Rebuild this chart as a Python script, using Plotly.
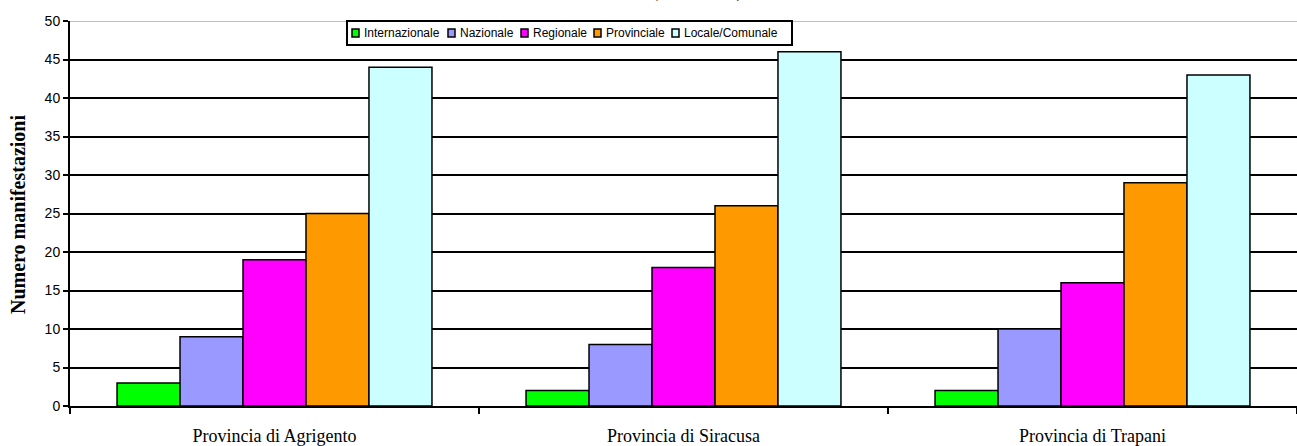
import plotly.graph_objects as go

# Data
provinces = ["Provincia di Agrigento", "Provincia di Siracusa", "Provincia di Trapani"]
levels = ["Internazionale", "Nazionale", "Regionale", "Provinciale", "Locale/Comunale"]
internazionale = [3, 2, 2]
nazionale = [9, 8, 10]
regionale = [19, 18, 16]
provinciale = [25, 26, 29]
locale = [44, 46, 43]
y_ticks = [0, 5, 10, 15, 20, 25, 30, 35, 40, 45, 50]

series = [internazionale, nazionale, regionale, provinciale, locale]
colors = ["#00FF00", "#9999FF", "#FF00FF", "#FF9900", "#CCFFFF"]

W, H = 1297, 446
M_L, M_R, M_T, M_B = 70, 0, 21, 40
PW, PH = W - M_L - M_R, H - M_T - M_B


def px_x(x):
    return (x - M_L) / PW


def px_y(y):
    return 1 - (y - M_T) / PH


fig = go.Figure()
for name, vals, col in zip(levels, series, colors):
    fig.add_trace(go.Bar(
        name=name, x=provinces, y=vals,
        marker=dict(color=col, line=dict(color="black", width=1.5)),
        showlegend=False,
    ))

shapes = []
annotations = []

# Top gridline drawn light grey
shapes.append(dict(type="line", xref="paper", x0=0, x1=1, yref="y", y0=50, y1=50,
                   line=dict(color="#BFBFBF", width=2), layer="above"))

# Boxed legend
leg_left, leg_right, leg_top, leg_bottom = 347, 792, 21, 45
shapes.append(dict(type="rect", xref="paper", yref="paper",
                   x0=px_x(leg_left), x1=px_x(leg_right),
                   y0=px_y(leg_bottom), y1=px_y(leg_top),
                   line=dict(color="black", width=2), fillcolor="white", layer="above"))
swatch_x = [352, 448, 521, 594, 672]
sw_cy = 33
for sx, name, col in zip(swatch_x, levels, colors):
    shapes.append(dict(type="rect", xref="paper", yref="paper",
                       x0=px_x(sx), x1=px_x(sx + 7),
                       y0=px_y(sw_cy + 4), y1=px_y(sw_cy - 4),
                       line=dict(color="black", width=1.5), fillcolor=col, layer="above"))
    annotations.append(dict(text=name, xref="paper", yref="paper",
                            x=px_x(sx + 10), y=px_y(sw_cy), xanchor="left", yanchor="middle",
                            showarrow=False, font=dict(family="Liberation Sans, Arial", size=12, color="black")))

# Y axis title
annotations.append(dict(text="<b>Numero manifestazioni</b>", xref="paper", yref="paper",
                        x=px_x(18), y=px_y(215), textangle=-90, xanchor="center", yanchor="middle",
                        showarrow=False, font=dict(family="Liberation Serif, Times New Roman", size=20, color="black")))

# Title (second line, runs off the top of the page)
annotations.append(dict(text="<b>(anno 2007)</b>", xref="paper", yref="paper",
                        x=px_x(697), y=1, yshift=17, xanchor="center", yanchor="bottom",
                        showarrow=False, font=dict(family="Liberation Serif, Times New Roman", size=18, color="black")))

fig.update_layout(
    width=W, height=H,
    margin=dict(l=M_L, r=M_R, t=M_T, b=M_B, pad=0, autoexpand=False),
    paper_bgcolor="white", plot_bgcolor="white",
    barmode="group", bargap=0.23, bargroupgap=0,
    shapes=shapes, annotations=annotations,
    showlegend=False,
)
fig.update_xaxes(
    type="category", tickson="boundaries", ticks="outside", ticklen=6, tickwidth=2, tickcolor="black",
    showline=True, linecolor="black", linewidth=2, showgrid=False, zeroline=False,
    ticklabelstandoff=12, automargin=False,
    tickfont=dict(family="Liberation Serif, Times New Roman", size=18, color="black"),
)
fig.update_yaxes(
    range=[0, 50], tickvals=y_ticks, ticks="outside", ticklen=5, tickwidth=2, tickcolor="black",
    showline=True, linecolor="black", linewidth=2, automargin=False,
    showgrid=True, gridcolor="black", gridwidth=2, zeroline=False,
    tickfont=dict(family="Liberation Sans, Arial", size=14, color="black"),
)

fig.write_html("out.html")
